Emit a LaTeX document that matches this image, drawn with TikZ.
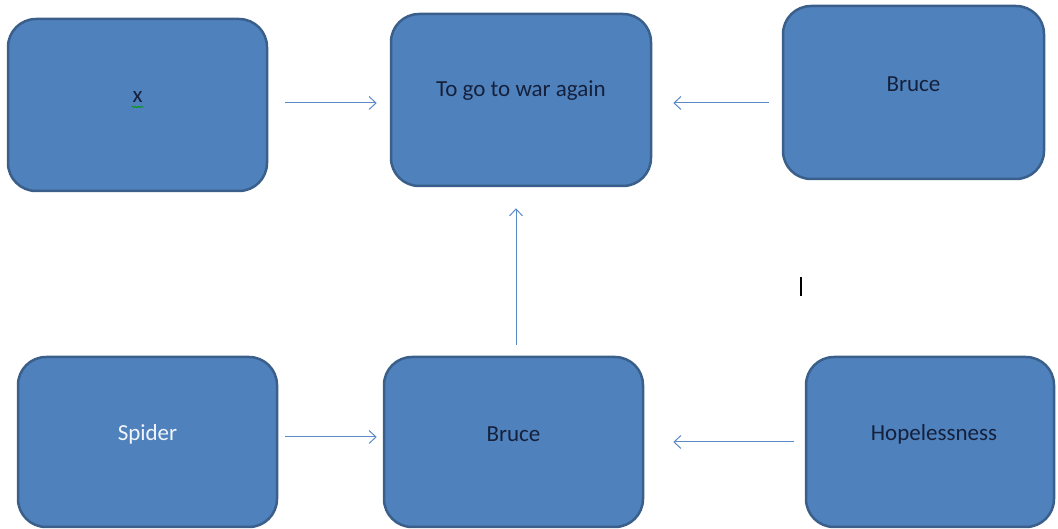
\documentclass[tikz,border=0pt]{standalone}
\usepackage{fontspec}
\setmainfont{Carlito}
\usetikzlibrary{arrows.meta,decorations.pathmorphing}
\definecolor{boxfill}{HTML}{4F81BD}
\definecolor{boxline}{HTML}{3A5F8B}
\definecolor{txt}{HTML}{15213C}
\definecolor{arrcol}{HTML}{5B8AC7}
\tikzset{
  x=1pt,y=1pt,
  box/.style={draw=boxline, line width=2.5pt, fill=boxfill, rounded corners=28pt, inner sep=0pt},
  lbl/.style={text=txt, font=\fontsize{23}{27}\selectfont, inner sep=0pt},
  arr/.style={draw=arrcol, line width=1pt, -{Straight Barb[length=7pt,width=13pt]}}
}
\begin{document}
\begin{tikzpicture}
\useasboundingbox (0,0) rectangle (1058,529);
\node[box, minimum width=259pt, minimum height=172pt] (bx) at (137.5,424) {};
\node[box, minimum width=260pt, minimum height=172pt] (war) at (521,429) {};
\node[box, minimum width=261pt, minimum height=173pt] (btop) at (913.5,436.5) {};
\node[box, minimum width=259pt, minimum height=170pt] (spider) at (147.5,87) {};
\node[box, minimum width=259pt, minimum height=170pt] (bbot) at (513.5,87) {};
\node[box, minimum width=248pt, minimum height=170pt] (hope) at (930,87) {};
\node[lbl] (tx) at ([yshift=8pt]bx.center) {x};
\draw[green!60!black, line width=0.7pt, decorate, decoration={snake, segment length=3pt, amplitude=0.8pt}] ([xshift=-6pt,yshift=-10pt]tx.center) coordinate (sq1) -- ([xshift=6pt,yshift=-10pt]tx.center) coordinate (sq2);
\node[lbl] (twar) at ([yshift=9pt]war.center) {To go to war again};
\node[lbl] (tbtop) at ([yshift=8.5pt]btop.center) {Bruce};
\node[lbl, text=white!92!boxfill] (tspider) at ([yshift=8pt]spider.center) {Spider};
\node[lbl] (tbbot) at ([yshift=8pt]bbot.center) {Bruce};
\node[lbl] (thope) at ([yshift=8pt,xshift=4pt]hope.center) {Hopelessness};
\draw[arr, shorten <=17pt, shorten >=13pt] ([yshift=2pt]bx.east) -- ([yshift=-3pt]war.west);
\draw[arr, shorten <=13pt, shorten >=21pt] ([yshift=-10.5pt]btop.west) -- ([yshift=-3pt]war.east);
\draw[arr, shorten <=11pt, shorten >=21pt] ([xshift=2.5pt]bbot.north) -- ([xshift=-5pt]war.south);
\draw[arr, shorten <=7pt, shorten >=6pt] ([yshift=5pt]spider.east) -- ([yshift=5pt]bbot.west);
\draw[arr, shorten <=11pt, shorten >=29pt] (hope.west) -- (bbot.east);
\coordinate (cur1) at (801,233);
\coordinate (cur2) at (801,252);
\draw[black, line width=2pt] (cur1) -- (cur2);
\end{tikzpicture}
\end{document}
